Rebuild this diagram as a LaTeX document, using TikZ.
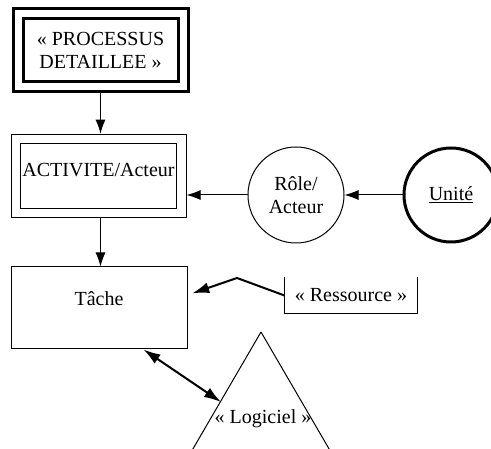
\documentclass[tikz,border=0pt]{standalone}
\usepackage{fontspec}
\setmainfont{Liberation Serif}
\usetikzlibrary{arrows.meta}

\begin{document}
\begin{tikzpicture}[x=1pt,y=-1pt,line width=1pt,>={Latex[length=14pt,width=10pt]},
  font=\fontsize{20}{23}\selectfont,
  every node/.style={inner sep=0pt,align=center},
  cadre/.style={draw,double,double distance=#1},
  grosse/.style={line width=2pt,>={Latex[length=17pt,width=11pt]}}]
  \clip (0,0) rectangle (491,449);
  % processus detaille (double cadre epais)
  \node[cadre=7pt,line width=3pt,minimum width=165pt,minimum height=73.5pt,outer sep=6.5pt]
    (proc) at (100.5,50) {« PROCESSUS\\DETAILLEE »};
  % activite/acteur
  \node[cadre=8.5pt,minimum width=165.5pt,minimum height=74pt,outer sep=5.3pt,text depth=12pt]
    (act) at (98.5,176) {ACTIVITE/Acteur};
  % tache
  \node[draw,minimum width=176pt,minimum height=82pt,text depth=18pt] (tache) at (99,308) {Tâche};
  % role et unite
  \node[draw,circle,minimum size=96pt] (role) at (296,195) {Rôle/\\Acteur};
  \node[draw,circle,line width=3pt,minimum size=94pt] (unite) at (451,195) {\underline{Unité}};
  % ressource (boite ouverte en haut)
  \node[minimum width=132pt,minimum height=35pt] (ress) at (351,295.5) {« Ressource »};
  \draw[line width=1.5pt] (ress.north west) -- (ress.south west) -- (ress.south east) -- (ress.north east);
  % logiciel (triangle coupe en bas)
  \coordinate (sommet) at (261,332);
  \node (logi) at (263,419) {« Logiciel »};
  \draw (sommet) -- +(-85,146) (sommet) -- +(85,146);
  % liens
  \draw[->] (proc.south) -- (proc.south |- act.north);
  \draw[->] (act.south -| proc.south) -- (tache.north -| proc.south);
  \draw[->] (role.west) -- (role.west -| act.east);
  \draw[->] (unite.west) -- (role.east);
  \coordinate (coude) at (237,278);
  \draw[->,grosse,shorten >=5pt] (ress.west) -- (coude) -- ([yshift=13pt]tache.east);
  \coordinate (appui) at (221,402);
  \draw[<->,grosse] ([xshift=-44pt]tache.south east) -- (appui);
\end{tikzpicture}
\end{document}
